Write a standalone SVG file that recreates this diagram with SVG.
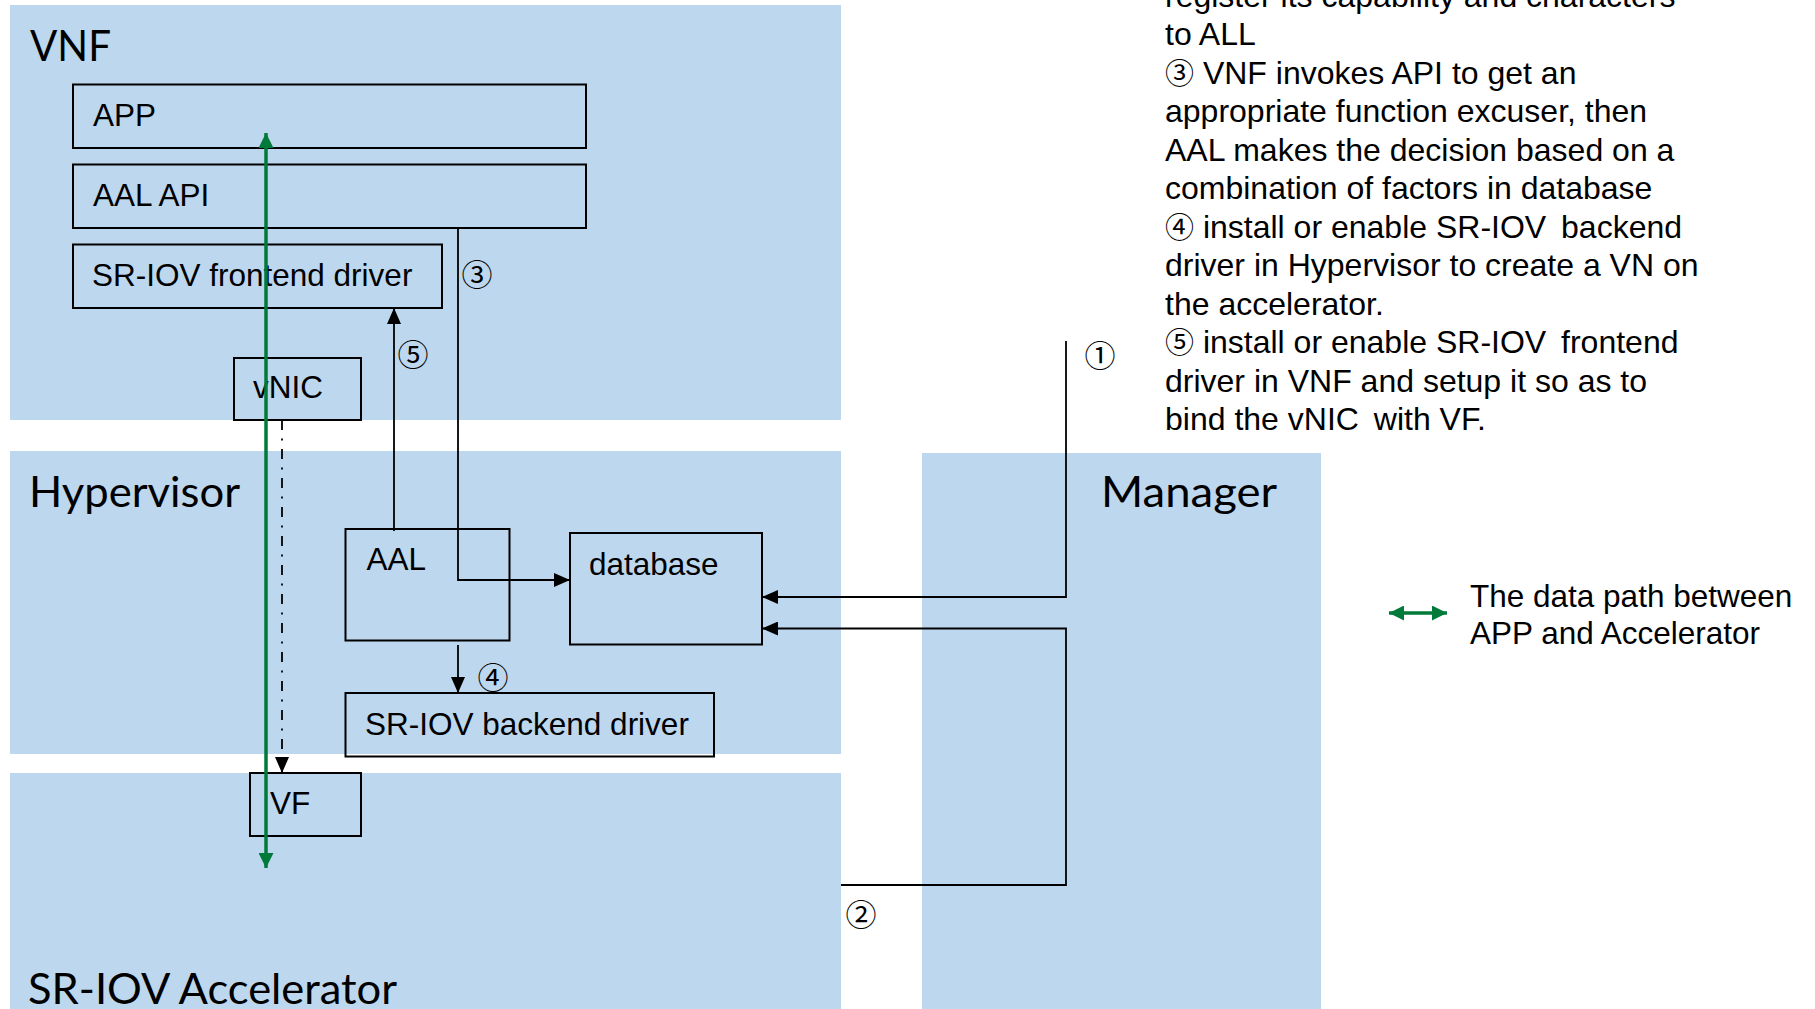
<svg xmlns="http://www.w3.org/2000/svg" width="1815" height="1009" viewBox="0 0 1815 1009">
  <defs>
    <style>
      .panel { fill: #BDD7EE; }
      .box { fill: none; stroke: #000; stroke-width: 2; }
      .title { font-family: Lato, "Open Sans", sans-serif; font-size: 43px; fill: #000; }
      .lbl { font-family: "Liberation Sans", Arial, sans-serif; font-size: 31.5px; fill: #000; }
      .note { font-family: "Liberation Sans", Arial, sans-serif; font-size: 32px; fill: #000; }
      .cn { font-family: "Noto Sans CJK JP", "DejaVu Sans", sans-serif; font-size: 29px; }
      .step { font-family: "Noto Sans CJK JP", "DejaVu Sans", sans-serif; font-size: 31px; fill: #000; text-anchor: middle; }
      .wire { fill: none; stroke: #000; stroke-width: 1.8; }
      .data { fill: none; stroke: #007A38; stroke-width: 3.5; }
    </style>
    <marker id="ah" markerUnits="userSpaceOnUse" markerWidth="16" markerHeight="14" refX="16" refY="7" orient="auto">
      <path d="M0,0 L16,7 L0,14 z" fill="#000"/>
    </marker>
    <marker id="gh" markerUnits="userSpaceOnUse" markerWidth="15" markerHeight="15" refX="15" refY="7.5" orient="auto-start-reverse">
      <path d="M0,0 L15,7.5 L0,15 z" fill="#007A38"/>
    </marker>
  </defs>

  <rect width="1815" height="1009" fill="#fff"/>

  <!-- layer panels -->
  <g id="vnf">
    <rect class="panel" x="10" y="5" width="831" height="415"/>
    <text class="title" x="30" y="61" textLength="81" lengthAdjust="spacingAndGlyphs">VNF</text>
  </g>
  <g id="hypervisor">
    <rect class="panel" x="10" y="451" width="831" height="303"/>
    <text class="title" x="29" y="507" textLength="211" lengthAdjust="spacingAndGlyphs">Hypervisor</text>
  </g>
  <g id="accelerator">
    <rect class="panel" x="10" y="773" width="831" height="236"/>
    <text class="title" x="28" y="1004" textLength="369" lengthAdjust="spacingAndGlyphs">SR-IOV Accelerator</text>
  </g>
  <g id="manager">
    <rect class="panel" x="922" y="453" width="399" height="556"/>
    <text class="title" x="1101" y="507" textLength="176" lengthAdjust="spacingAndGlyphs">Manager</text>
  </g>

  <!-- component boxes -->
  <g id="app">
    <rect class="box" x="73" y="84.5" width="513" height="63.5"/>
    <text class="lbl" x="93" y="126">APP</text>
  </g>
  <g id="aal-api">
    <rect class="box" x="73" y="164.5" width="513" height="63.5"/>
    <text class="lbl" x="93" y="206">AAL API</text>
  </g>
  <g id="frontend">
    <rect class="box" x="73" y="244.5" width="369" height="63.5"/>
    <text class="lbl" x="92" y="286">SR-IOV frontend driver</text>
  </g>
  <g id="vnic">
    <rect class="box" x="234" y="358" width="127" height="62"/>
    <text class="lbl" x="253" y="398">vNIC</text>
  </g>
  <g id="aal">
    <rect class="box" x="345.5" y="529" width="164" height="111.5"/>
    <text class="lbl" x="366.5" y="570">AAL</text>
  </g>
  <g id="database">
    <rect class="box" x="570" y="533" width="192" height="111.5"/>
    <text class="lbl" x="589" y="575">database</text>
  </g>
  <g id="backend">
    <rect class="box" x="345.5" y="693" width="368.5" height="63.5"/>
    <text class="lbl" x="365" y="735">SR-IOV backend driver</text>
  </g>
  <g id="vf">
    <rect class="box" x="250" y="773" width="111" height="63"/>
    <text class="lbl" x="270" y="814">VF</text>
  </g>

  <!-- connectors -->
  <g id="connectors">
    <!-- data path APP <-> accelerator -->
    <line class="data" x1="266" y1="868" x2="266" y2="133" marker-start="url(#gh)" marker-end="url(#gh)"/>
    <!-- vNIC bound to VF -->
    <line class="wire" x1="282" y1="420" x2="282" y2="773" stroke-dasharray="10 8.5 2 8.5" marker-end="url(#ah)"/>
    <!-- step 5: AAL to frontend driver -->
    <line class="wire" x1="394" y1="531" x2="394" y2="308" marker-end="url(#ah)"/>
    <!-- step 3: AAL API to database -->
    <polyline class="wire" points="458,228 458,580 570,580" marker-end="url(#ah)"/>
    <!-- step 4: AAL to backend driver -->
    <line class="wire" x1="458" y1="645" x2="458" y2="693" marker-end="url(#ah)"/>
    <!-- step 1: register to database -->
    <polyline class="wire" points="1066,341 1066,597 762,597" marker-end="url(#ah)"/>
    <!-- step 2: accelerator to database -->
    <polyline class="wire" points="841,885 1066,885 1066,628.5 762,628.5" marker-end="url(#ah)"/>
  </g>

  <!-- step numbers -->
  <g id="steps">
    <text class="step" x="1100" y="367">①</text>
    <text class="step" x="861" y="926">②</text>
    <text class="step" x="477" y="286">③</text>
    <text class="step" x="493" y="689">④</text>
    <text class="step" x="413" y="366">⑤</text>
  </g>

  <!-- step descriptions -->
  <g id="notes" class="note">
    <text x="1165" y="6.5">register its capability and characters</text>
    <text x="1165" y="45">to ALL</text>
    <text x="1165" y="83.5"><tspan class="cn">③</tspan> VNF invokes API to get an</text>
    <text x="1165" y="122">appropriate function excuser, then</text>
    <text x="1165" y="160.5">AAL makes the decision based on a</text>
    <text x="1165" y="199">combination of factors in database</text>
    <text x="1165" y="237.5"><tspan class="cn">④</tspan> install or enable SR-IOV <tspan dx="6">backend</tspan></text>
    <text x="1165" y="276">driver in Hypervisor to create a VN on</text>
    <text x="1165" y="314.5">the accelerator.</text>
    <text x="1165" y="353"><tspan class="cn">⑤</tspan> install or enable SR-IOV <tspan dx="6">frontend</tspan></text>
    <text x="1165" y="391.5">driver in VNF and setup it so as to</text>
    <text x="1165" y="430">bind the vNIC <tspan dx="6">with VF.</tspan></text>
  </g>

  <!-- legend -->
  <g id="legend">
    <line class="data" x1="1389" y1="613" x2="1447" y2="613" marker-start="url(#gh)" marker-end="url(#gh)"/>
    <text class="lbl" x="1470" y="607" font-size="32">The data path between</text>
    <text class="lbl" x="1470" y="644" font-size="32">APP and Accelerator</text>
  </g>
</svg>
